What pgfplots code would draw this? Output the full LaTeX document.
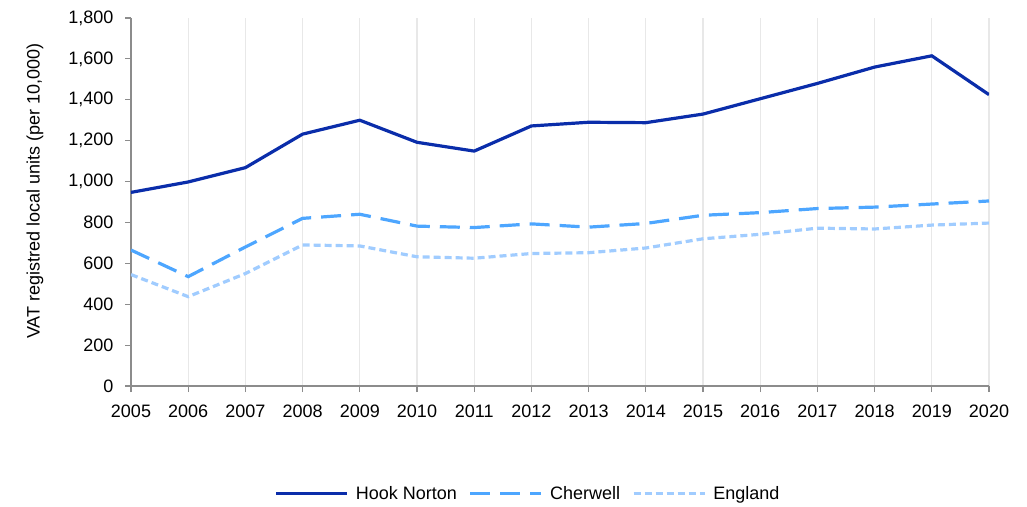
\documentclass[border=0pt]{standalone}
\usepackage{fontspec}
\setmainfont{Liberation Sans}
\usepackage{pgfplots}
\pgfplotsset{compat=1.18}

\definecolor{hook}{HTML}{0A2DAA}
\definecolor{cher}{HTML}{4DA6FF}
\definecolor{eng}{HTML}{A0CCFF}
\definecolor{axgray}{HTML}{8C8C8C}
\definecolor{gridgray}{HTML}{E8E8E8}

\begin{document}
\begin{tikzpicture}
  \begin{axis}[
      scale only axis,
      width=858bp, height=368bp,
      xmin=2005, xmax=2020,
      ymin=0, ymax=1800,
      xtick={2005,2006,...,2020},
      ytick={0,200,...,1800},
      axis x line*=bottom,
      axis y line*=left,
      axis line style={axgray, line width=1.6bp},
      tick style={axgray, line width=1.2bp},
      tick align=outside,
      major tick length=6bp,
      xmajorgrids,
      grid style={gridgray, line width=1.2bp},
      /pgf/number format/assume math mode=true,
      ticklabel style={font=\fontsize{18bp}{20bp}\selectfont},
      xticklabel style={/pgf/number format/1000 sep=, yshift=-9bp},
      yticklabel style={/pgf/number format/1000 sep={,}, xshift=-8bp},
      ylabel={VAT registred local units (per 10,000)},
      every axis y label/.style={at={(rel axis cs:0,0.53)}, xshift=-96bp,
        rotate=90, anchor=center, font=\fontsize{18bp}{20bp}\selectfont},
      legend columns=3,
      legend style={at={(rel axis cs:0.4627,-0.293)}, anchor=center, draw=none,
        font=\fontsize{18bp}{20bp}\selectfont,
        /tikz/every odd column/.append style={column sep=5bp},
        /tikz/every even column/.append style={column sep=10bp}},
      legend image code/.code={\draw[#1] (0bp,0bp) -- (71bp,0bp);},
    ]
    \addplot[hook, line width=3.2bp] coordinates {
      (2005,947) (2006,998) (2007,1068) (2008,1232) (2009,1300) (2010,1192)
      (2011,1149) (2012,1272) (2013,1290) (2014,1288) (2015,1330) (2016,1405)
      (2017,1480) (2018,1560) (2019,1615) (2020,1425)};
    \addlegendentry{Hook Norton}
    \addplot[cher, line width=3.2bp, dash pattern=on 20bp off 10bp] coordinates {
      (2005,665) (2006,535) (2007,680) (2008,820) (2009,840) (2010,782)
      (2011,775) (2012,793) (2013,777) (2014,795) (2015,835) (2016,848)
      (2017,868) (2018,875) (2019,890) (2020,905)};
    \addlegendentry{Cherwell}
    \addplot[eng, line width=3.2bp, dash pattern=on 7bp off 4bp] coordinates {
      (2005,545) (2006,437) (2007,550) (2008,690) (2009,685) (2010,632)
      (2011,625) (2012,648) (2013,652) (2014,675) (2015,720) (2016,742)
      (2017,772) (2018,768) (2019,787) (2020,797)};
    \addlegendentry{England}
  \end{axis}
  \useasboundingbox (-131bp,-121bp) rectangle (896bp,386bp);
\end{tikzpicture}
\end{document}
